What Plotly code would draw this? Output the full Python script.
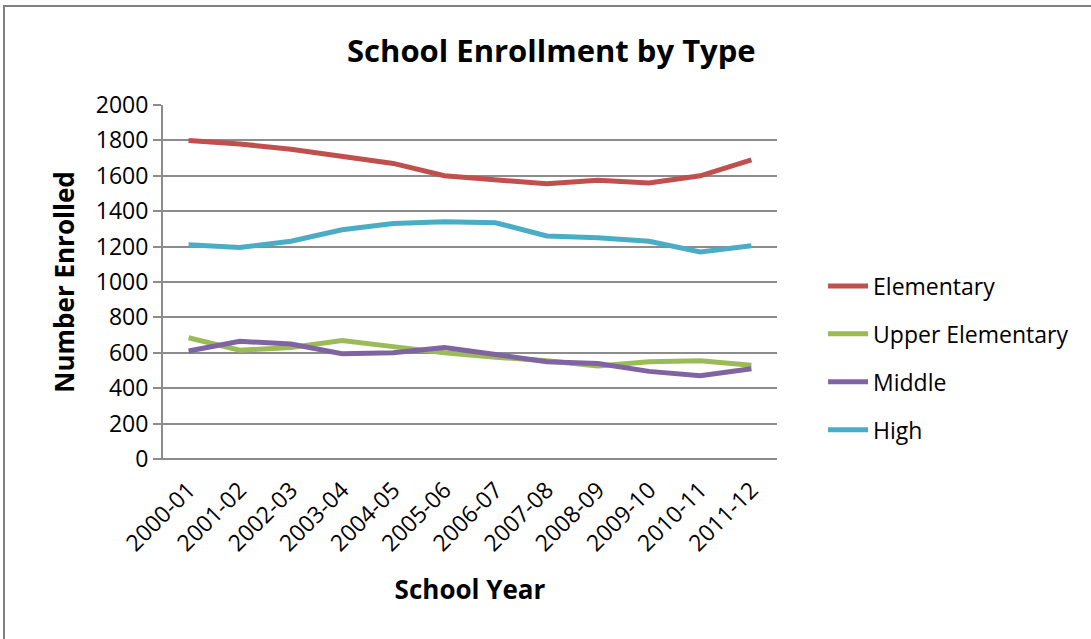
import plotly.graph_objects as go

# School years on the category axis
years = ["2000-01", "2001-02", "2002-03", "2003-04", "2004-05", "2005-06",
         "2006-07", "2007-08", "2008-09", "2009-10", "2010-11", "2011-12"]

# Enrollment counts per school type
elementary = [1800, 1780, 1750, 1710, 1670, 1600, 1575, 1555, 1575, 1560, 1600, 1690]
upper_elementary = [685, 615, 630, 670, 635, 600, 575, 555, 525, 550, 555, 530]
middle = [610, 665, 650, 595, 600, 630, 590, 550, 540, 495, 470, 510]
high = [1210, 1195, 1230, 1295, 1330, 1340, 1335, 1260, 1250, 1230, 1170, 1205]

y_ticks = [0, 200, 400, 600, 800, 1000, 1200, 1400, 1600, 1800, 2000]

series = [
    ("Elementary", elementary, "#C0504D"),
    ("Upper Elementary", upper_elementary, "#9BBB59"),
    ("Middle", middle, "#8064A2"),
    ("High", high, "#4BACC6"),
]

FONT = "'Open Sans', sans-serif"

fig = go.Figure()
for i, (name, vals, color) in enumerate(series):
    fig.add_trace(go.Scatter(
        x=years, y=vals, name=name, mode="lines",
        line=dict(color=color, width=5),
        legendgroup=f"g{i}",
    ))

W, H = 1091, 639
L, R, T, B = 163, 777, 105, 459

fig.update_layout(
    width=W, height=H,
    margin=dict(l=L, r=W - R, t=T, b=H - B, autoexpand=False),
    paper_bgcolor="white", plot_bgcolor="white",
    font=dict(family=FONT, color="black", size=20),
    showlegend=True,
    legend=dict(
        x=1.075, y=(B - 358) / (B - T), xanchor="left", yanchor="middle",
        font=dict(size=23, family=FONT),
        tracegroupgap=15, itemwidth=40,
        bgcolor="rgba(0,0,0,0)",
    ),
    xaxis=dict(
        type="category", range=[-0.5, len(years) - 0.5],
        showgrid=False, showline=False, ticks="",
        tickangle=-45, tickfont=dict(size=23), ticklabelstandoff=12,
        title=dict(text="<b>School Year</b>", font=dict(size=26), standoff=24),
        zeroline=False,
    ),
    yaxis=dict(
        range=[0, 2000], tickvals=y_ticks, showgrid=True,
        gridcolor="#8c8c8c", gridwidth=2,
        showline=True, linecolor="#8c8c8c", linewidth=2,
        ticks="outside", ticklen=8, tickcolor="#8c8c8c", tickwidth=2,
        tickfont=dict(size=23),
        title=dict(text="<b>Number Enrolled</b>", font=dict(size=26), standoff=14),
        zeroline=False,
    ),
    annotations=[
        dict(text="<b>School Enrollment by Type</b>", xref="paper", yref="paper",
             x=(551 - L) / (R - L), y=(B - 50) / (B - T),
             xanchor="center", yanchor="middle", showarrow=False,
             font=dict(size=31, family=FONT)),
    ],
    shapes=[
        # baseline extends under the tick marks
        dict(type="line", xref="paper", yref="paper",
             x0=(155 - L) / (R - L), x1=1, y0=0, y1=0,
             line=dict(color="#8c8c8c", width=2)),
        # chart frame (left and top edges)
        dict(type="path", xref="paper", yref="paper",
             path=f"M {(4 - L) / (R - L)} {(B - 700) / (B - T)} "
                  f"L {(4 - L) / (R - L)} {(B - 6) / (B - T)} "
                  f"L {(1200 - L) / (R - L)} {(B - 6) / (B - T)}",
             line=dict(color="#808080", width=2)),
    ],
)

fig.write_html("out.html")
